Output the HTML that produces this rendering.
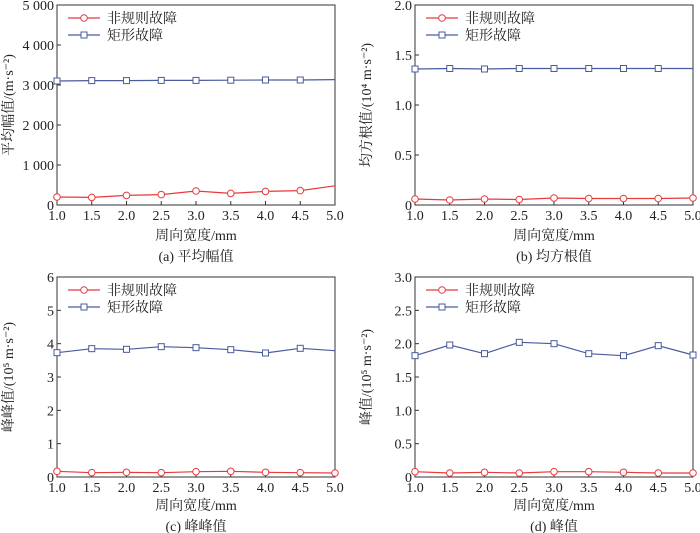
<!DOCTYPE html>
<html><head><meta charset="utf-8">
<style>
body{margin:0;background:#fff;}
svg{display:block;font-family:"Liberation Serif","Noto Serif CJK SC",serif;}
</style></head>
<body>
<svg id="c" width="700" height="533" viewBox="0 0 700 533"></svg>
<script>
const categories=[1.0,1.5,2.0,2.5,3.0,3.5,4.0,4.5,5.0];
const xTicks=["1.0","1.5","2.0","2.5","3.0","3.5","4.0","4.5","5.0"];
const seriesNames=["非规则故障","矩形故障"];
const aRed=[200,190,240,260,350,290,340,360,480];
const aBlue=[3100,3110,3110,3115,3115,3120,3125,3125,3135];
const aTicks=["0","1 000","2 000","3 000","4 000","5 000"];
const bRed=[0.06,0.05,0.06,0.055,0.07,0.065,0.065,0.065,0.07];
const bBlue=[1.36,1.365,1.36,1.365,1.365,1.365,1.365,1.365,1.365];
const bTicks=["0","0.5","1.0","1.5","2.0"];
const cRed=[0.17,0.13,0.14,0.13,0.16,0.17,0.14,0.13,0.12];
const cBlue=[3.73,3.85,3.83,3.91,3.88,3.82,3.72,3.86,3.79];
const cTicks=["0","1","2","3","4","5","6"];
const dRed=[0.08,0.06,0.07,0.06,0.08,0.08,0.07,0.06,0.06];
const dBlue=[1.82,1.98,1.85,2.02,2.00,1.85,1.82,1.97,1.83];
const dTicks=["0","0.5","1.0","1.5","2.0","2.5","3.0"];

const NS="http://www.w3.org/2000/svg";
const svg=document.getElementById('c');
function mk(tag,attrs,parent,text){const e=document.createElementNS(NS,tag);for(const k in attrs)e.setAttribute(k,attrs[k]);if(text!==undefined)e.textContent=text;(parent||svg).appendChild(e);return e;}
const RED="#e8393d",BLUE="#4a5b9e";
const panels=[
 {id:"a",x0:57,y0:5,yMax:5000,ticks:aTicks,red:aRed,blue:aBlue,ylabel:"平均幅值/(m·s⁻²)",cap:"(a) 平均幅值",xo:35,co:56},
 {id:"b",x0:415,y0:5,yMax:2,ticks:bTicks,red:bRed,blue:bBlue,ylabel:"均方根值/(10⁴ m·s⁻²)",cap:"(b) 均方根值",xo:35,co:56},
 {id:"c",x0:57,y0:277,yMax:6,ticks:cTicks,red:cRed,blue:cBlue,ylabel:"峰峰值/(10⁵ m·s⁻²)",cap:"(c) 峰峰值",xo:33,co:54},
 {id:"d",x0:415,y0:277,yMax:3,ticks:dTicks,red:dRed,blue:dBlue,ylabel:"峰值/(10⁵ m·s⁻²)",cap:"(d) 峰值",xo:33,co:54}
];
const W=278,H=200;
panels.forEach(p=>{
 const g=mk('g',{});
 
 
 const xs=v=>p.x0+(v-1)/4*W;
 const ys=v=>p.y0+H-v/p.yMax*H;
 const box=mk('rect',{x:p.x0,y:p.y0,width:W,height:H,fill:'none',stroke:'#333','stroke-width':1},g);
 
 
 categories.forEach((c,i)=>{
  const x=xs(c);
  mk('line',{x1:x,y1:p.y0+H,x2:x,y2:p.y0+H-4,stroke:'#333'},g);
  const t=mk('text',{x:x,y:p.y0+H+15,'text-anchor':'middle','font-size':14,fill:'#222'},g,xTicks[i]);
  
  
 });
 const n=p.ticks.length-1;
 p.ticks.forEach((lab,i)=>{
  const y=ys(i/n*p.yMax);
  mk('line',{x1:p.x0,y1:y,x2:p.x0+4,y2:y,stroke:'#333'},g);
  const t=mk('text',{x:p.x0-3,y:y+5,'text-anchor':'end','font-size':14,fill:'#222'},g,lab);
  
  
 });
 const yl=mk('text',{x:0,y:0,transform:`translate(${p.x0-44},${p.y0+H/2}) rotate(-90)`,'text-anchor':'middle','font-size':14,fill:'#222'},g,p.ylabel);
 
 
 const xl=mk('text',{x:p.x0+W/2,y:p.y0+H+p.xo,'text-anchor':'middle','font-size':14,fill:'#222'},g,"周向宽度/mm");
 
 
 const cp=mk('text',{x:p.x0+W/2,y:p.y0+H+p.co,'text-anchor':'middle','font-size':14,fill:'#222'},g,p.cap);
 
 
 [[p.red,RED,'circle'],[p.blue,BLUE,'square']].forEach(([data,col,mkType],si)=>{
  const pts=data.map((v,i)=>xs(categories[i])+','+ys(v)).join(' ');
  const pl=mk('polyline',{points:pts,fill:'none',stroke:col,'stroke-width':1.2},g);
  
  
  data.forEach((v,i)=>{
   const x=xs(categories[i]),y=ys(v);
   let m;
   if(mkType==='circle'){ if(i===data.length-1 && p.id==='a') return; m=mk('circle',{cx:x,cy:y,r:3.3,fill:'#fff',stroke:col,'stroke-width':1},g);}
   else { if(i===data.length-1 && p.id!=='d') return; m=mk('rect',{x:x-3,y:y-3,width:6,height:6,fill:'#fff',stroke:col,'stroke-width':1},g);}
   
   
  });
  const ly=p.y0+13+si*17;
  const lg=mk('g',{},g);
  
  
  mk('line',{x1:p.x0+11,y1:ly,x2:p.x0+43,y2:ly,stroke:col,'stroke-width':1.2},lg);
  if(mkType==='circle')mk('circle',{cx:p.x0+27,cy:ly,r:3.3,fill:'#fff',stroke:col},lg);
  else mk('rect',{x:p.x0+24,y:ly-3,width:6,height:6,fill:'#fff',stroke:col},lg);
  mk('text',{x:p.x0+50,y:ly+5,'font-size':14,fill:'#222'},lg,seriesNames[si]);
 });
});
</script>
</body></html>
